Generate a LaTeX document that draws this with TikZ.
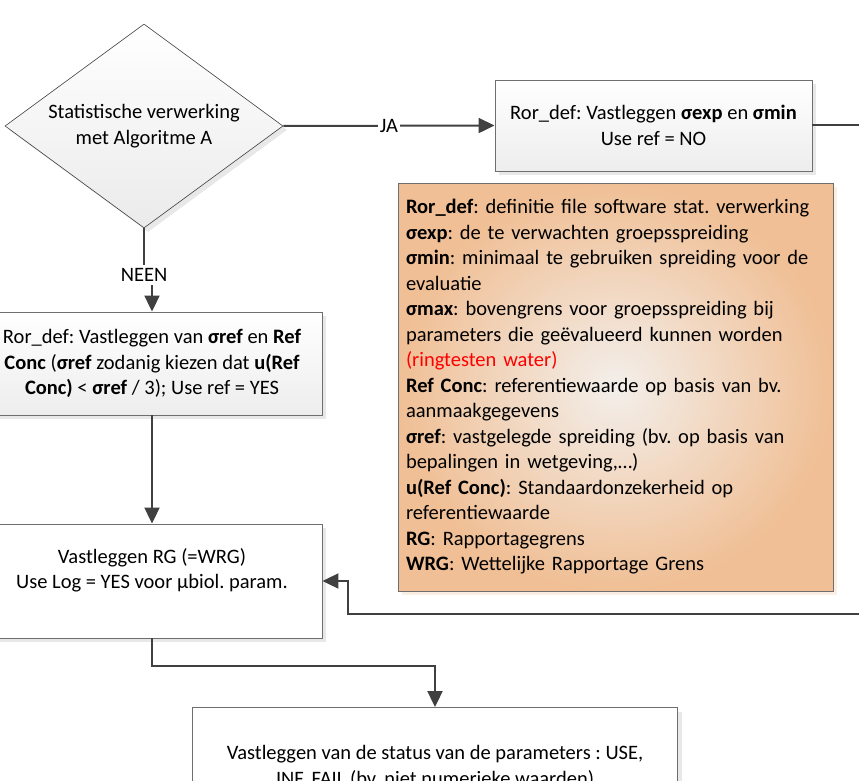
\documentclass[tikz,border=0pt]{standalone}
\usepackage{fontspec}
\setmainfont{Carlito}
\usepackage{xcolor}
\usepackage{tikz}
\usetikzlibrary{shapes.geometric,arrows.meta,shadows}

\definecolor{linegray}{HTML}{404040}
\definecolor{boxgray}{HTML}{6E6E6E}
\definecolor{noteorange}{HTML}{F0BF95}
\definecolor{notelight}{HTML}{F3EFEB}

\begin{document}
\begin{tikzpicture}[x=1pt,y=-1pt,
    every node/.style={font=\fontsize{20.5}{25.5}\selectfont\frenchspacing},
    flowbox/.style={draw=boxgray, line width=0.9pt, rectangle, align=center, inner sep=0pt,
        drop shadow={shadow xshift=4pt, shadow yshift=-4pt, fill=black!9, opacity=1}},
    shadedbox/.style={flowbox, top color=white, bottom color=black!7},
    decision/.style={diamond, draw=linegray, line width=0.6pt, align=center, inner sep=0pt,
        aspect=1.36, top color=white, bottom color=black!8,
        drop shadow={shadow xshift=4pt, shadow yshift=-4pt, fill=black!9, opacity=1}},
    conn/.style={draw=linegray, line width=2pt, -{Triangle[length=16pt,width=15pt]}},
    lbl/.style={fill=white, inner sep=3pt}]

    \useasboundingbox (0,0) rectangle (859,781);
    \clip (0,0) rectangle (859,781);

    % Decision
    \node[decision, minimum width=278, minimum height=204] (dec) at (144,126)
        {Statistische verwerking\\met Algoritme A};

    % Use ref = NO
    \node[shadedbox, minimum width=317, minimum height=91] (refno) at (653.5,125.5)
        {Ror\_def: Vastleggen \textbf{σexp} en \textbf{σmin}\\Use ref = NO};

    % Legend
    \node[draw=boxgray, line width=0.9pt, rectangle, inner sep=0pt, align=left,
        minimum width=435, minimum height=408, text width=419,
        shading=radial, inner color=notelight, outer color=noteorange,
        drop shadow={shadow xshift=4pt, shadow yshift=-4pt, fill=noteorange!25, opacity=1}]
        (defs) at (615.5,387)
        {\textbf{Ror\_def}: definitie file software stat. verwerking\\
         \textbf{σexp}: de te verwachten groepsspreiding\\
         \textbf{σmin}: minimaal te gebruiken spreiding voor de\\
         evaluatie\\
         \textbf{σmax}: bovengrens voor groepsspreiding bij\\
         parameters die geëvalueerd kunnen worden\\
         \textcolor{red}{(ringtesten water)}\\
         \textbf{Ref Conc}: referentiewaarde op basis van bv.\\
         aanmaakgegevens\\
         \textbf{σref}: vastgelegde spreiding (bv. op basis van\\
         bepalingen in wetgeving,…)\\
         \textbf{u(Ref Conc)}: Standaardonzekerheid op\\
         referentiewaarde\\
         \textbf{RG}: Rapportagegrens\\
         \textbf{WRG}: Wettelijke Rapportage Grens};

    % Use ref = YES
    \node[shadedbox, minimum width=340, minimum height=103] (refyes) at (152,363.5)
        {Ror\_def: Vastleggen van \textbf{σref} en \textbf{Ref}\\
         \textbf{Conc} (\textbf{σref} zodanig kiezen dat \textbf{u(Ref}\\
         \textbf{Conc)} < \textbf{σref} / 3); Use ref = YES};

    % Rapportagegrens
    \node[flowbox, fill=white, minimum width=340, minimum height=114] (rgbox) at (152,581)
        {Vastleggen RG (=WRG)\\Use Log = YES voor µbiol. param.\\~};

    % Status
    \node[flowbox, fill=white, minimum width=485, minimum height=119] (statbox) at (435,767)
        {Vastleggen van de status van de parameters : USE,\\INF, FAIL (bv. niet numerieke waarden)};

    % Connections
    \coordinate (neen) at (144,275);
    \coordinate (loopR) at (885,614);
    \coordinate (loopL) at (348,581);
    \draw[conn] (dec.east) -- node[lbl, inner sep=2pt]{JA} (refno.west);
    \draw[conn] (dec.south) -- (neen) node[lbl]{NEEN} -| (refyes.north);
    \draw[conn] (refyes.south) -- (rgbox.north);
    \draw[conn] (refno.east) -| (loopR) -| (loopL) -- (rgbox.east);
    \draw[conn] (rgbox.south) -- ++(0,28) -| (statbox.north);

\end{tikzpicture}
\end{document}
